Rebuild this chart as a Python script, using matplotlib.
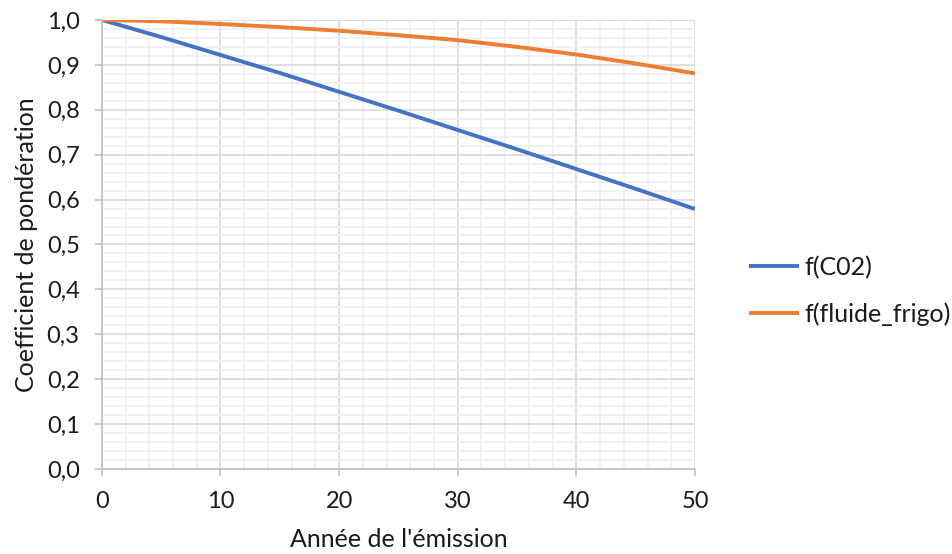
import matplotlib.pyplot as plt
from matplotlib.ticker import MultipleLocator, FuncFormatter

# Valeurs (tous les 5 ans)
annees = [0, 5, 10, 15, 20, 25, 30, 35, 40, 45, 50]
f_co2 = [1.0, 0.962, 0.922, 0.882, 0.840, 0.798, 0.755, 0.712, 0.668, 0.624, 0.579]
f_fluide = [1.0, 0.997, 0.991, 0.984, 0.976, 0.966, 0.955, 0.940, 0.923, 0.903, 0.881]

BLEU = '#4472C4'
ORANGE = '#ED7D31'

plt.rcParams['font.family'] = ['Lato', 'DejaVu Sans']

fig = plt.figure(figsize=(9.52, 5.54), dpi=100)
ax = fig.add_axes([0.107, 0.1534, 0.623, 0.8106])

ax.plot(annees, f_co2, color=BLEU, lw=2.8, label='f(C02)', solid_capstyle='butt')
ax.plot(annees, f_fluide, color=ORANGE, lw=2.8, label='f(fluide_frigo)', solid_capstyle='butt')

ax.set_xlim(0, 50)
ax.set_ylim(0, 1.0)
ax.xaxis.set_major_locator(MultipleLocator(10))
ax.xaxis.set_minor_locator(MultipleLocator(2))
ax.yaxis.set_major_locator(MultipleLocator(0.1))
ax.yaxis.set_minor_locator(MultipleLocator(0.02))
ax.yaxis.set_major_formatter(FuncFormatter(lambda v, p: f'{v:.1f}'.replace('.', ',')))

ax.grid(True, which='minor', color='#EFEFEF', lw=1.2, zorder=0)
ax.grid(True, which='major', color='#D9D9D9', lw=1.2, zorder=0)
ax.set_axisbelow(True)

for s in ['top', 'right']:
    ax.spines[s].set_visible(False)
for s in ['left', 'bottom']:
    ax.spines[s].set_color('#BFBFBF')
    ax.spines[s].set_linewidth(1.2)

ax.tick_params(which='major', direction='out', length=5, width=1.2, color='#BFBFBF',
               labelsize=17, labelcolor='#1a1a1a')
ax.tick_params(axis='y', which='major', pad=11)
ax.tick_params(axis='x', which='major', pad=11)
ax.tick_params(which='minor', length=0)

ax.set_xlabel("Année de l'émission", fontsize=18, color='#1a1a1a', labelpad=11)
ax.set_ylabel('Coefficient de pondération', fontsize=18, color='#1a1a1a', labelpad=6)

fig.legend(loc='center left', bbox_to_anchor=(0.787, 0.475), frameon=False,
           fontsize=18, handlelength=2.0, handletextpad=0.2, labelspacing=0.95,
           borderpad=0, borderaxespad=0, labelcolor='#1a1a1a')

fig.savefig('out.png', dpi=100)
